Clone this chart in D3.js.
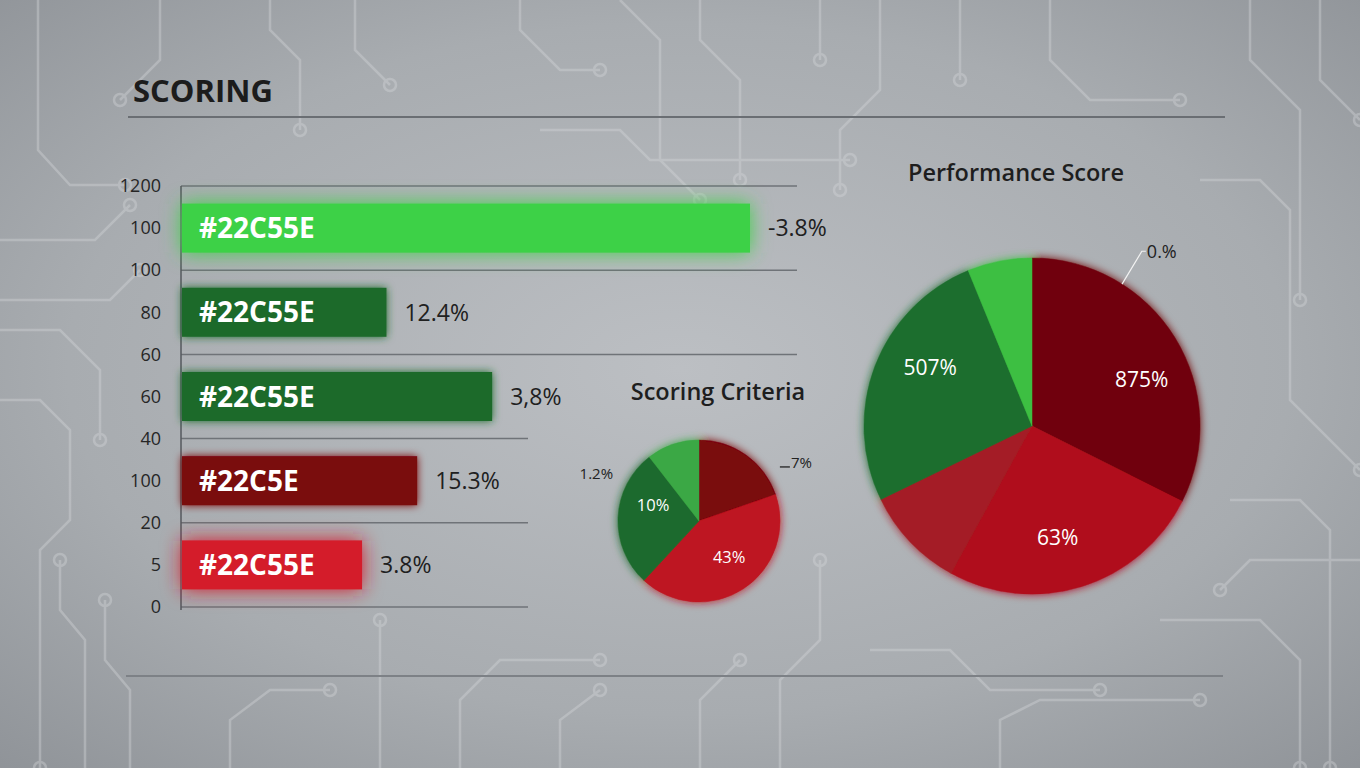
<!DOCTYPE html>
<html lang="en">
<head>
<meta charset="UTF-8">
<title>Scoring</title>
<script src="https://d3js.org/d3.v7.min.js"></script>
<style>
  html, body { margin: 0; padding: 0; background: #a7abaf; }
  svg { display: block; }
  text { font-family: "Open Sans", "Noto Sans", sans-serif; }
</style>
</head>
<body>
<svg id="chart" width="1360" height="768"></svg>
<script>
// ---- data ----
const tickLabels = ["1200", "100", "100", "80", "60", "60", "40", "100", "20", "5", "0"];

const barNames  = ["#22C55E", "#22C55E", "#22C55E", "#22C5E", "#22C55E"];
const barValues = [100, 36, 54.6, 41.4, 31.7];
const barLabels = ["-3.8%", "12.4%", "3,8%", "15.3%", "3.8%"];
const barColors = ["#3dd146", "#1d6b2c", "#1d6b2c", "#7a0710", "#d41a2a"];

const criteriaValues = [19.7, 42.2, 27.6, 10.5];
const criteriaLabels = ["7%", "43%", "10%", "1.2%"];
const criteriaColors = ["#7a0710", "#be1420", "#1f6b2d", "#3aa845"];

const perfValues = [32.4, 25.6, 9.8, 26.0, 6.2];
const perfLabels = ["875%", "63%", "", "507%", "0.%"];
const perfColors = ["#70040c", "#b00f1c", "#a41d25", "#1f6e2e", "#3cbf43"];

const W = 1360, H = 768;
const svg = d3.select("#chart");
const defs = svg.append("defs");

// background
const bg = defs.append("radialGradient").attr("id", "bg")
  .attr("cx", "50%").attr("cy", "48%").attr("r", "75%");
bg.append("stop").attr("offset", "0%").attr("stop-color", "#bcbfc3");
bg.append("stop").attr("offset", "60%").attr("stop-color", "#a8acb0");
bg.append("stop").attr("offset", "100%").attr("stop-color", "#8d9196");
svg.append("rect").attr("width", W).attr("height", H).attr("fill", "url(#bg)");

function glow(id, sd) {
  const f = defs.append("filter").attr("id", id)
    .attr("x", "-30%").attr("y", "-60%").attr("width", "160%").attr("height", "220%");
  f.append("feGaussianBlur").attr("in", "SourceGraphic").attr("stdDeviation", sd).attr("result", "b");
  const m = f.append("feMerge");
  m.append("feMergeNode").attr("in", "b");
  m.append("feMergeNode").attr("in", "SourceGraphic");
}
glow("glowBig", 10);
glow("glowSmall", 4);

// decorative circuit traces
const traces = [
  [[38,0],[38,150],[70,185],[125,185]], [[0,240],[95,240],[130,205]],
  [[0,300],[110,300],[140,270]], [[0,330],[60,330],[100,370],[100,440]],
  [[0,400],[40,400],[70,430],[70,520],[40,550],[40,768]],
  [[85,768],[85,640],[60,610],[60,560]], [[130,768],[130,690],[105,660],[105,600]],
  [[160,0],[160,60],[120,100]], [[270,0],[270,30],[300,60],[300,130]],
  [[355,0],[355,50],[390,85]], [[520,0],[520,30],[560,70],[600,70]],
  [[620,0],[660,40],[660,160],[700,200]], [[700,0],[700,40],[740,80],[740,180]],
  [[820,0],[820,60]], [[880,0],[880,90],[840,130],[840,190]], [[960,0],[960,80]],
  [[1050,0],[1050,60],[1090,100],[1180,100]], [[1250,0],[1250,60],[1300,110],[1300,300]],
  [[1320,0],[1320,80],[1360,120]], [[1200,180],[1260,180],[1290,210],[1290,400],[1360,470]],
  [[1230,500],[1300,500],[1330,530],[1330,768]], [[1160,620],[1260,620],[1300,660],[1300,768]],
  [[780,768],[780,680],[820,640],[820,560]], [[700,768],[700,700],[740,660]],
  [[460,768],[460,700],[500,660],[600,660]], [[380,768],[380,620]],
  [[870,650],[950,650],[990,690],[1100,690]], [[540,130],[620,130],[650,160],[850,160]],
  [[230,768],[230,720],[270,690],[330,690]], [[560,768],[560,720],[600,690]],
  [[1000,768],[1000,720],[1040,700],[1200,700]], [[1360,560],[1250,560],[1220,590]]
];
const deco = svg.append("g").attr("stroke", "#d6d8db").attr("fill", "none")
  .attr("stroke-width", 2.5).attr("opacity", 0.38);
deco.selectAll("path").data(traces).join("path").attr("d", d3.line());
deco.selectAll("circle").data(traces.map(t => t[t.length - 1])).join("circle")
  .attr("cx", d => d[0]).attr("cy", d => d[1]).attr("r", 6);

// title and rules
svg.append("text").attr("x", 133).attr("y", 102)
  .attr("font-size", 31).attr("font-weight", 700).attr("fill", "#1c1c1c").text("SCORING");
svg.append("line").attr("x1", 128).attr("x2", 1225).attr("y1", 117).attr("y2", 117)
  .attr("stroke", "#6a6e73").attr("stroke-width", 2);
svg.append("line").attr("x1", 126).attr("x2", 1223).attr("y1", 676).attr("y2", 676)
  .attr("stroke", "#7d8186").attr("stroke-width", 2);

// ---- bar chart ----
const x0 = 181;
const y = d3.scalePoint().domain(d3.range(tickLabels.length)).range([186, 607]);
const x = d3.scaleLinear().domain([0, 100]).range([x0, 749]);
const barH = 49;

const gridIdx = [0, 2, 4, 6, 8, 10];
svg.append("g").selectAll("line").data(gridIdx).join("line")
  .attr("x1", x0).attr("x2", d => d <= 4 ? 797 : 528)
  .attr("y1", d => y(d)).attr("y2", d => y(d))
  .attr("stroke", "#6f7378").attr("stroke-width", 1.5);

const yAxis = svg.append("g").attr("transform", `translate(${x0},0)`)
  .call(d3.axisLeft(y).tickSize(0).tickPadding(20).tickFormat(i => tickLabels[i]));
yAxis.select(".domain").attr("stroke", "#55595e").attr("stroke-width", 1.5)
  .attr("d", `M0,${y(0)}V${y(10) + 3}`);
yAxis.selectAll("text").attr("font-family", "'Liberation Sans', Arial, sans-serif")
  .attr("font-size", 18).attr("fill", "#262626");

const bars = barValues.map((v, i) => ({ v, i, pos: 2 * i + 1 }));
svg.append("g").selectAll("rect").data(bars).join("rect")
  .attr("x", x0 + 1).attr("y", d => y(d.pos) - barH / 2)
  .attr("width", d => x(d.v) - x0).attr("height", barH)
  .attr("fill", d => barColors[d.i])
  .attr("filter", d => d.i === 0 || d.i === 4 ? "url(#glowBig)" : "url(#glowSmall)");

svg.append("g").selectAll("text").data(bars).join("text")
  .attr("x", 199).attr("y", d => y(d.pos)).attr("dy", "0.36em")
  .attr("font-size", 28).attr("font-weight", 700).attr("fill", "#ffffff")
  .text(d => barNames[d.i]);

svg.append("g").selectAll("text").data(bars).join("text")
  .attr("x", d => x(d.v) + 19).attr("y", d => y(d.pos)).attr("dy", "0.36em")
  .attr("font-size", 23).attr("fill", "#202020")
  .text(d => barLabels[d.i]);

// ---- pies ----
function drawPie(cx, cy, r, values, colors, labels, spots, title, titleDx, titleY, fs, outFs) {
  const g = svg.append("g").attr("transform", `translate(${cx},${cy})`);
  const arcs = d3.pie().sort(null)(values);
  const arc = d3.arc().innerRadius(0).outerRadius(r);
  g.append("g").attr("filter", "url(#glowSmall)")
    .selectAll("path").data(arcs).join("path")
    .attr("d", arc).attr("fill", (d, i) => colors[i])
    .attr("stroke", (d, i) => colors[i]).attr("stroke-width", 0.5);
  spots.forEach(s => {
    const p = d3.pointRadial(s.a * Math.PI / 180, r * s.k);
    if (s.lead) {
      const e = d3.pointRadial((s.a - 2) * Math.PI / 180, r);
      g.append("path").attr("fill", "none").attr("stroke", "#f2f2f2").attr("stroke-width", 1.2)
        .attr("d", d3.line()([e, [p[0] - 5, p[1] - 7], [p[0] - 1, p[1] - 7]]));
    }
    if (s.dash) {
      g.append("line").attr("x1", p[0] - 11).attr("x2", p[0] - 1)
        .attr("y1", p[1] - 1).attr("y2", p[1] - 1).attr("stroke", "#222").attr("stroke-width", 1.3);
    }
    g.append("text").attr("x", p[0]).attr("y", p[1]).attr("dy", s.out ? "0" : "0.36em")
      .attr("text-anchor", s.anchor || "middle")
      .attr("font-size", s.out ? outFs : fs).attr("fill", s.out ? "#222" : "#fff")
      .text(labels[s.i]);
  });
  svg.append("text").attr("x", cx + titleDx).attr("y", titleY)
    .attr("text-anchor", "middle").attr("font-size", 23.5).attr("font-weight", 600)
    .attr("fill", "#1e1e1e").text(title);
}

drawPie(699, 521, 81, criteriaValues, criteriaColors, criteriaLabels, [
  { i: 0, a: 60, k: 1.31, anchor: "start", out: true, dash: true },
  { i: 1, a: 140, k: 0.58 },
  { i: 2, a: 289, k: 0.6 },
  { i: 3, a: 296, k: 1.18, anchor: "end", out: true }
], "Scoring Criteria", 19, 400, 16.5, 15);

drawPie(1032, 426, 168, perfValues, perfColors, perfLabels, [
  { i: 0, a: 67, k: 0.71 },
  { i: 1, a: 167, k: 0.68 },
  { i: 3, a: 300, k: 0.7 },
  { i: 4, a: 34.4, k: 1.21, anchor: "start", out: true, lead: true }
], "Performance Score", -16, 181, 21, 18);
</script>
</body>
</html>
